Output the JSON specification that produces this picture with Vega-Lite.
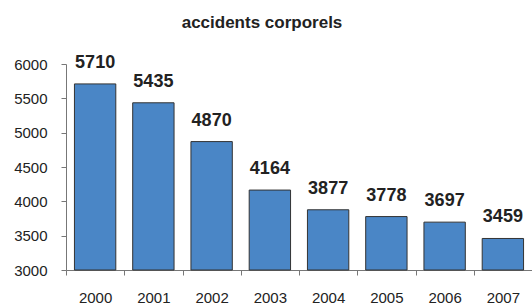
{
  "$schema": "https://vega.github.io/schema/vega-lite/v6.json",
  "width": 466,
  "height": 206,
  "autosize": {"type": "none"},
  "padding": {"left": 66, "top": 64, "right": 0, "bottom": 36},
  "background": "white",
  "title": {
    "text": "accidents corporels",
    "font": "Liberation Sans",
    "fontSize": 17,
    "fontWeight": "bold",
    "color": "#222222",
    "anchor": "middle",
    "dx": -37,
    "offset": 22
  },
  "data": {
    "values": [
      {"year": "2000", "value": 5710},
      {"year": "2001", "value": 5435},
      {"year": "2002", "value": 4870},
      {"year": "2003", "value": 4164},
      {"year": "2004", "value": 3877},
      {"year": "2005", "value": 3778},
      {"year": "2006", "value": 3697},
      {"year": "2007", "value": 3459}
    ]
  },
  "config": {
    "view": {"stroke": null},
    "axis": {
      "labelFont": "Liberation Sans",
      "labelFontSize": 15,
      "labelColor": "#222222",
      "domainColor": "#777777",
      "tickColor": "#777777",
      "grid": false,
      "title": null
    }
  },
  "encoding": {
    "x": {
      "field": "year",
      "type": "ordinal",
      "scale": {"paddingInner": 0, "paddingOuter": 0},
      "axis": {"labelAngle": 0, "tickBand": "extent", "tickSize": 5, "labelPadding": 15, "labelBaseline": "top"}
    },
    "y": {
      "field": "value",
      "type": "quantitative",
      "scale": {"domain": [3000, 6000], "zero": false, "nice": false},
      "axis": {"values": [3000, 3500, 4000, 4500, 5000, 5500, 6000], "format": "d", "tickSize": 5, "labelPadding": 14}
    }
  },
  "layer": [
    {
      "mark": {"type": "bar", "width": {"band": 0.71}, "fill": "#4a86c6", "stroke": "#333333", "strokeWidth": 1},
      "encoding": {"y2": {"datum": 3000}}
    },
    {
      "mark": {"type": "text", "font": "Liberation Sans", "fontSize": 18, "fontWeight": "bold", "color": "#222222", "baseline": "alphabetic", "dy": -16},
      "encoding": {"text": {"field": "value", "type": "quantitative", "format": "d"}}
    }
  ]
}
